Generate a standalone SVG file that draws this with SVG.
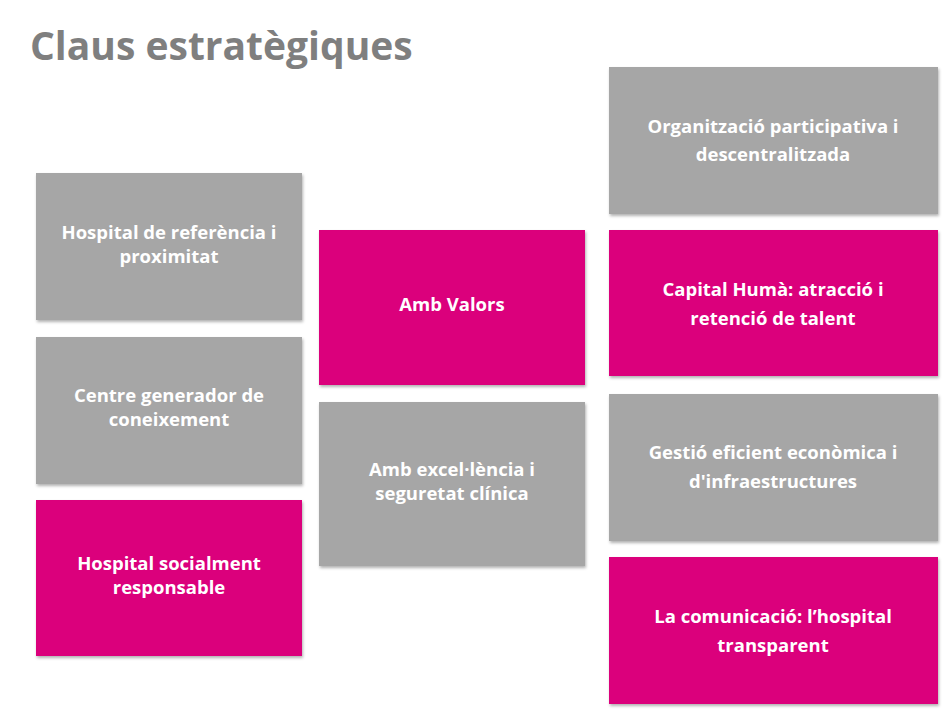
<svg xmlns="http://www.w3.org/2000/svg" width="944" height="712" viewBox="0 0 944 712">
<defs>
<filter id="sh" x="-5%" y="-5%" width="112%" height="112%"><feDropShadow dx="1" dy="2" stdDeviation="1.5" flood-color="#000" flood-opacity="0.3"/></filter>
<style>
.g{fill:#A6A6A6;filter:url(#sh)}
.p{fill:#DB007B;filter:url(#sh)}
text{font-family:"Open Sans","Liberation Sans",sans-serif;font-weight:bold;fill:#fff;font-size:18.5px;text-anchor:middle}
.t{fill:#7F7F7F;font-size:39px;text-anchor:start}
</style>
</defs>
<rect width="944" height="712" fill="#fff"/>
<text class="t" x="30" y="60">Claus estratègiques</text>
<g id="n1"><rect class="g" x="36" y="173" width="266" height="147"/><text x="169" y="239">Hospital de referència i</text><text x="169" y="263">proximitat</text></g>
<g id="n2"><rect class="g" x="36" y="337" width="266" height="147"/><text x="169" y="402">Centre generador de</text><text x="169" y="426">coneixement</text></g>
<g id="n3"><rect class="p" x="36" y="500" width="266" height="156"/><text x="169" y="570">Hospital socialment</text><text x="169" y="594">responsable</text></g>
<g id="n4"><rect class="p" x="319" y="230" width="266" height="155"/><text x="452" y="311">Amb Valors</text></g>
<g id="n5"><rect class="g" x="319" y="402" width="266" height="164"/><text x="452" y="476">Amb excel·lència i</text><text x="452" y="500">seguretat clínica</text></g>
<g id="n6"><rect class="g" x="609" y="67" width="329" height="147"/><text x="773" y="133">Organització  participativa i</text><text x="773" y="161">descentralitzada</text></g>
<g id="n7"><rect class="p" x="609" y="230" width="329" height="146"/><text x="773" y="296">Capital Humà: atracció i</text><text x="773" y="325">retenció de talent</text></g>
<g id="n8"><rect class="g" x="609" y="394" width="329" height="147"/><text x="773" y="459">Gestió eficient econòmica i</text><text x="773" y="488">d'infraestructures</text></g>
<g id="n9"><rect class="p" x="609" y="557" width="329" height="147"/><text x="773" y="623">La comunicació: l’hospital</text><text x="773" y="652">transparent</text></g>
<g id="connectors"></g>
</svg>
